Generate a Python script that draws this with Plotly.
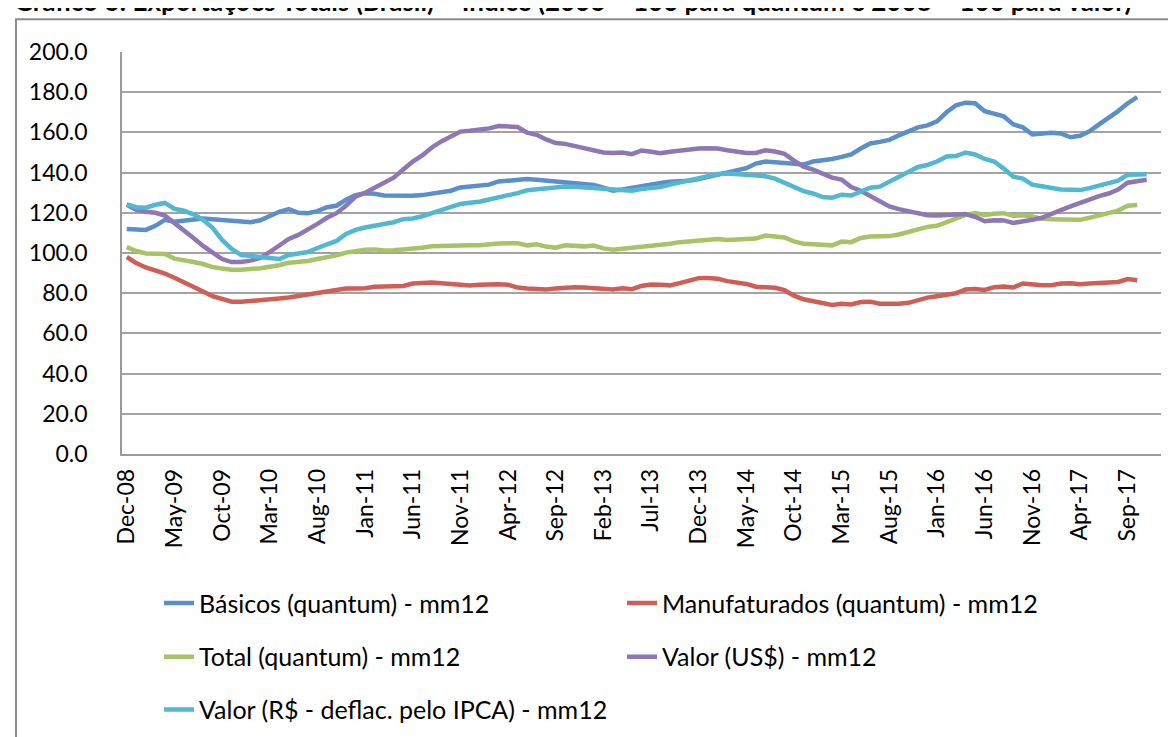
import plotly.graph_objects as go

# ---------------- data ----------------
MONTHS = ["Jan", "Feb", "Mar", "Apr", "May", "Jun", "Jul", "Aug", "Sep", "Oct", "Nov", "Dec"]
categories = ["Dec-08"] + [f"{m}-{y:02d}" for y in range(9, 18) for m in MONTHS]  # Dec-08 .. Dec-17

tick_labels = ["Dec-08", "May-09", "Oct-09", "Mar-10", "Aug-10", "Jan-11", "Jun-11", "Nov-11",
               "Apr-12", "Sep-12", "Feb-13", "Jul-13", "Dec-13", "May-14", "Oct-14", "Mar-15",
               "Aug-15", "Jan-16", "Jun-16", "Nov-16", "Apr-17", "Sep-17"]

y_ticks = [0, 20, 40, 60, 80, 100, 120, 140, 160, 180, 200]

basicos = [112, 111.7, 111.5, 113.5, 116.5, 115.5, 116, 117, 117.2, 116.8,
           116.5, 116, 115.5, 115.3, 116.3, 118.5, 120.5, 121.8, 120, 119.8,
           120.8, 122.8, 123.5, 126.5, 128.8, 129.7, 129.5, 128.6, 128.5, 128.4,
           128.5, 128.8, 129.5, 130.1, 131, 132.6, 133, 133.3, 134, 135.6,
           136, 136.4, 136.8, 136.4, 136, 135.6, 135.1, 134.8, 134.3, 133.8,
           132.5, 131, 131.6, 132.5, 133, 133.8, 134.8, 135.4, 135.6, 135.9,
           136.8, 137.8, 138.8, 140, 141, 142.2, 144.5, 145.5, 145.2, 144.9,
           144.3, 144, 145.5, 146, 146.8, 147.8, 149, 152, 154.5, 155.3,
           156.3, 158.5, 160.5, 162.5, 163.5, 165.5, 170, 173.5, 174.8, 174.5,
           170.5, 169, 168, 164, 162.5, 159, 159.5, 159.8, 159.5, 157.6,
           158.3, 160.5, 164, 167, 170.6, 174.5, 177.5]

manufaturados = [98, 95, 92.8, 91.5, 89.8, 87.7, 85.2, 83, 80.8, 78.5,
                 77, 75.8, 75.7, 76, 76.6, 77, 77.4, 77.9, 78.6, 79.3,
                 80.2, 81, 81.8, 82.3, 82.4, 82.5, 83.2, 83.4, 83.2, 83.6,
                 84.8, 85.2, 85.3, 84.9, 84.5, 84.3, 83.8, 84.2, 84.4, 84.4,
                 84.2, 82.8, 82.3, 82.2, 81.9, 82.4, 82.9, 83, 82.8, 82.5,
                 81.8, 81.9, 82.4, 82, 83.6, 84.3, 84.2, 83.9, 85, 86.5,
                 87.5, 87.6, 87.2, 86, 85.2, 84.6, 83.2, 82.9, 82.7, 81.5,
                 78.8, 77, 76, 74.8, 74.2, 74.8, 74.4, 75.6, 75.8, 74.8,
                 74.6, 74.8, 75.2, 76.5, 77.8, 78.5, 79.5, 80, 81.8, 82.1,
                 81.6, 83, 83.3, 82.8, 84.8, 84.2, 83.9, 84, 84.8, 84.9,
                 84.4, 84.8, 85.1, 85.3, 85.6, 87, 86.4]

total = [102.9, 101, 99.8, 99.6, 99.5, 97.2, 96.6, 95.5, 94.5, 93,
         92.3, 91.7, 91.7, 91.9, 92.4, 93.2, 93.9, 95.2, 95.6, 96,
         97, 97.8, 98.8, 100.2, 101, 101.6, 101.8, 101.3, 101.4, 101.7,
         102, 102.6, 103.3, 103.3, 103.3, 103.8, 103.8, 103.9, 104.5, 104.7,
         104.8, 104.9, 103.8, 104.3, 103.2, 102.6, 103.8, 103.6, 103.3, 103.7,
         102.3, 101.6, 102.1, 102.3, 103.3, 103.6, 104, 104.6, 105.4, 105.8,
         106.2, 106.8, 107, 106.5, 106.8, 107, 107.2, 108.7, 108.2, 107.7,
         105.8, 104.6, 104.3, 104.1, 103.8, 105.7, 105.4, 107.5, 108.2, 108.3,
         108.4, 109.2, 110.5, 112.2, 113, 113.5, 115.5, 117.4, 119, 119.9,
         118.9, 119.5, 119.8, 118.5, 118.8, 118.2, 117, 116.8, 116.6, 116.5,
         116.5, 117.5, 118.6, 119.8, 121.1, 123.5, 123.9]

valor_usd = [124, 121.5, 120.5, 120, 118.6, 115, 111.5, 107.5, 103.5, 100,
             97, 95.5, 95.5, 96.2, 97.5, 100.5, 104, 107, 109, 111.5,
             114.5, 117.5, 119.8, 123.5, 128, 130, 132.5, 134.5, 137.5, 141.5,
             145.5, 148.5, 152.5, 155.5, 158, 160.4, 160.8, 161.4, 162, 163.2,
             162.8, 162.7, 159.9, 158.8, 156.5, 154.7, 154.3, 153.2, 152.1, 151.5,
             150, 149.7, 150, 149.2, 151, 150.4, 149.6, 150.4, 151.1, 151.5,
             152, 152.1, 152, 151.1, 150.5, 149.8, 149.8, 151.1, 150.5, 149.3,
             146, 143, 141.5, 139.2, 137.5, 136.5, 132.8, 131, 128.5, 125.5,
             123.2, 121.8, 120.8, 120, 118.8, 118.7, 119, 119.2, 119.4, 118,
             115.8, 116.3, 116.2, 115, 115.5, 116.5, 117.5, 119.2, 121.3, 123.2,
             125, 126.8, 128.3, 129.6, 131.6, 135, 135.6, 136.4]

valor_brl = [124.2, 122.8, 122.5, 124, 124.9, 122, 121, 119.2, 116.5, 112.5,
             106.5, 102, 99, 98.4, 98, 97.5, 97, 99, 99.5, 100.5,
             102.5, 104, 106, 109.5, 111.5, 112.7, 113.6, 114.2, 115.3, 116.8,
             117.2, 118.3, 119.8, 121.5, 123.2, 124.4, 125, 125.5, 126.6, 127.6,
             129, 129.8, 131.2, 131.8, 132, 132.5, 133.1, 132.9, 132.6, 132.4,
             131.9, 132, 131.4, 131, 131.8, 132.3, 132.8, 134, 135.1, 136,
             137.2, 138.5, 139.3, 139.6, 139.2, 138.9, 138.6, 138.2, 137, 135,
             132.5, 130.8, 129.6, 127.8, 127.5, 129, 128.6, 130.6, 132.5, 133,
             135.5, 138, 140.2, 142.8, 143.8, 145.5, 148, 148.2, 150, 149,
             146.8, 145.5, 142, 138, 137, 134, 133.2, 132.2, 131.6, 131.5,
             131.3, 132.3, 133.5, 134.8, 136, 138.9, 139.1, 139.2]

series = [
    ("Básicos (quantum) - mm12", basicos, "#5B8FCA", "legend"),
    ("Manufaturados (quantum) - mm12", manufaturados, "#CF5E57", "legend2"),
    ("Total (quantum) - mm12", total, "#A6C365", "legend3"),
    ("Valor (US$) - mm12", valor_usd, "#8D77B5", "legend4"),
    ("Valor (R$ - deflac. pelo IPCA) - mm12", valor_brl, "#52B7D1", "legend5"),
]

title_text = ("Gráfico 6: Exportações Totais (Brasil) – Índice (2006 = 100 para quantum "
              "e 2008 = 100 para valor)")

FONT = "Lato, Calibri, Carlito, sans-serif"

# ---------------- figure ----------------
fig = go.Figure()
for name, vals, color, leg in series:
    fig.add_trace(go.Scatter(
        x=categories[:len(vals)], y=vals, name=name, mode="lines",
        line=dict(color=color, width=4.5), legend=leg,
    ))

L, R, T, B = 114, 23, 44, 289
W, H = 1176, 737
pw, ph = W - L - R, H - T - B


def px_x(p):
    return (p - L) / pw


def px_y(p):
    return 1 - (p - T) / ph


legend_pos = {
    "legend": (151, 598),
    "legend2": (614, 598),
    "legend3": (151, 652),
    "legend4": (614, 652),
    "legend5": (151, 705),
}
legend_layout = {}
for key, (lx, ly) in legend_pos.items():
    legend_layout[key] = dict(
        x=px_x(lx), y=px_y(ly), xanchor="left", yanchor="middle",
        orientation="h", bgcolor="rgba(0,0,0,0)", borderwidth=0,
        font=dict(family=FONT, size=25, color="#000000"),
        itemwidth=30,
    )

fig.update_layout(
    width=W, height=H,
    margin=dict(l=L, r=R, t=T, b=B, pad=0),
    paper_bgcolor="white", plot_bgcolor="white",
    showlegend=True,
    font=dict(family=FONT, size=23, color="#000000"),
    **legend_layout,
)

fig.update_xaxes(
    type="category", categoryorder="array", categoryarray=categories,
    range=[-0.5, len(categories) - 0.5],
    tickmode="array", tickvals=tick_labels, ticktext=tick_labels,
    tickangle=-90, tickfont=dict(family=FONT, size=23, color="#000000"),
    showgrid=False, showline=True, linecolor="#9A9A9A", linewidth=1.5,
    ticks="", ticklabelstandoff=4, zeroline=False,
)
fig.update_yaxes(
    range=[0, 200], tickmode="array", tickvals=y_ticks, tickformat=".1f",
    tickfont=dict(family=FONT, size=23, color="#000000"),
    showgrid=True, gridcolor="#A3A3A3", gridwidth=1.5,
    showline=True, linecolor="#9A9A9A", linewidth=1.5,
    ticks="", ticklabelstandoff=28, zeroline=False,
)

# outer chart border (extends beyond the captured area on right/bottom)
fig.add_shape(type="rect", xref="paper", yref="paper",
              x0=px_x(8), x1=px_x(1250), y0=px_y(800), y1=px_y(11),
              line=dict(color="#8C8C8C", width=2), fillcolor="rgba(0,0,0,0)", layer="below")

# title (partially cut at the top)
fig.add_annotation(text=f"<b>{title_text}</b>", xref="paper", yref="paper",
                   x=px_x(4), y=px_y(-7), xanchor="left", yanchor="middle",
                   showarrow=False, font=dict(family=FONT, size=26, color="#000000"))

fig.write_html("out.html")
